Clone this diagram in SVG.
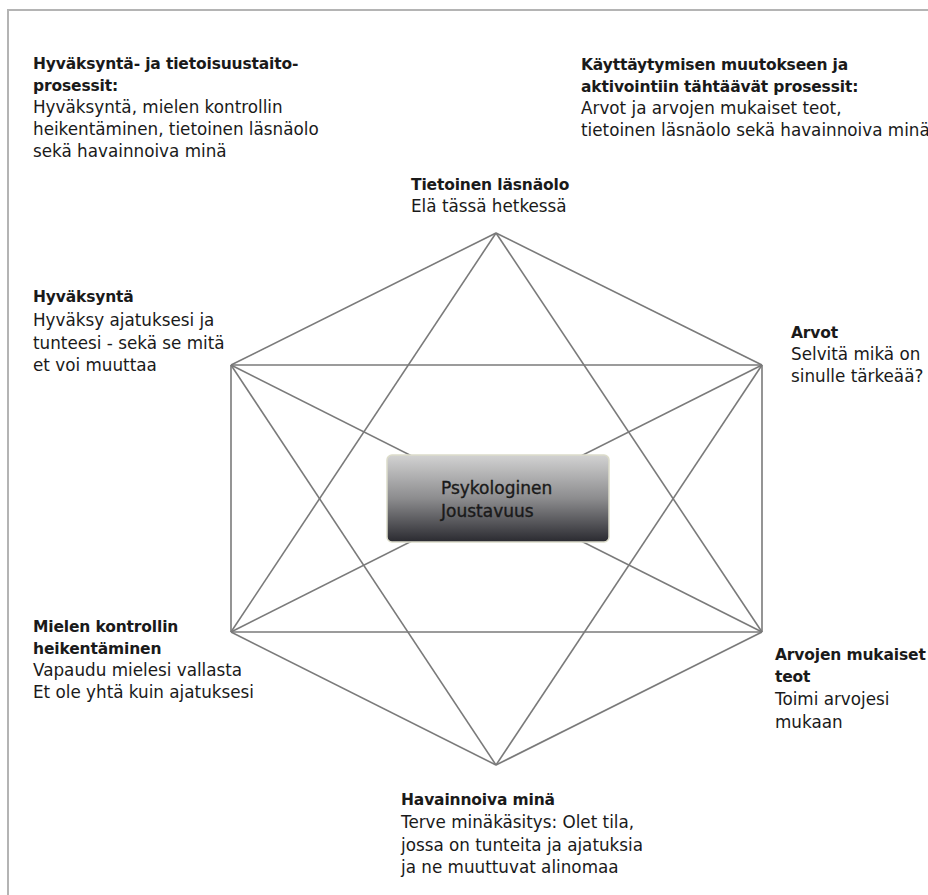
<svg xmlns="http://www.w3.org/2000/svg" width="928" height="895" viewBox="0 0 928 895">
<defs>
<linearGradient id="boxg" x1="0" y1="0" x2="0" y2="1">
<stop offset="0" stop-color="#d2d2d2"/>
<stop offset="0.5" stop-color="#8c8c8e"/>
<stop offset="1" stop-color="#2a2a30"/>
</linearGradient>
<style>
text{font-family:"DejaVu Sans","Verdana",sans-serif;font-size:16.8px;fill:#1a1a1a}
.b{font-weight:bold;font-size:15.5px;letter-spacing:-0.15px}
.c{font-size:17px;stroke:#1a1a1a;stroke-width:0.35}
.ln{stroke:#7a7a7a;stroke-width:1.6;fill:none}
</style>
</defs>
<rect x="0" y="0" width="928" height="895" fill="#ffffff"/>
<rect x="8" y="10" width="960" height="920" fill="none" stroke="#b4b4b4" stroke-width="2"/>
<g id="connectors">
<line class="ln" x1="496" y1="233" x2="231" y2="365"/>
<line class="ln" x1="496" y1="233" x2="762" y2="365"/>
<line class="ln" x1="231" y1="365" x2="231" y2="632"/>
<line class="ln" x1="762" y1="365" x2="762" y2="632"/>
<line class="ln" x1="231" y1="632" x2="496" y2="765"/>
<line class="ln" x1="762" y1="632" x2="496" y2="765"/>
<line class="ln" x1="496" y1="233" x2="231" y2="632"/>
<line class="ln" x1="496" y1="233" x2="762" y2="632"/>
<line class="ln" x1="231" y1="632" x2="762" y2="632"/>
<line class="ln" x1="496" y1="765" x2="231" y2="365"/>
<line class="ln" x1="496" y1="765" x2="762" y2="365"/>
<line class="ln" x1="231" y1="365" x2="762" y2="365"/>
<line class="ln" x1="231" y1="365" x2="762" y2="632"/>
<line class="ln" x1="762" y1="365" x2="231" y2="632"/>
</g>
<g id="center">
<rect x="387" y="455" width="222" height="87" rx="5" fill="url(#boxg)" stroke="#dcdcca" stroke-width="1.5"/>
<text x="441" y="494" class="c">Psykologinen</text>
<text x="441" y="517" class="c">Joustavuus</text>
</g>
<g id="acceptance-processes">
<text x="33" y="69" class="b">Hyväksyntä- ja tietoisuustaito-</text>
<text x="33" y="91" class="b">prosessit:</text>
<text x="33" y="113">Hyväksyntä, mielen kontrollin</text>
<text x="33" y="135">heikentäminen, tietoinen läsnäolo</text>
<text x="33" y="157">sekä havainnoiva minä</text>
</g>
<g id="behaviour-processes">
<text x="581" y="70" class="b">Käyttäytymisen muutokseen ja</text>
<text x="581" y="92" class="b">aktivointiin tähtäävät prosessit:</text>
<text x="581" y="114">Arvot ja arvojen mukaiset teot,</text>
<text x="581" y="136">tietoinen läsnäolo sekä havainnoiva minä</text>
</g>
<g id="mindfulness">
<text x="411" y="190" class="b">Tietoinen läsnäolo</text>
<text x="411" y="212">Elä tässä hetkessä</text>
</g>
<g id="acceptance">
<text x="33" y="302" class="b">Hyväksyntä</text>
<text x="33" y="326">Hyväksy ajatuksesi ja</text>
<text x="33" y="349">tunteesi - sekä se mitä</text>
<text x="33" y="371">et voi muuttaa</text>
</g>
<g id="values">
<text x="791" y="338" class="b">Arvot</text>
<text x="791" y="360">Selvitä mikä on</text>
<text x="791" y="382">sinulle tärkeää?</text>
</g>
<g id="defusion">
<text x="33" y="632" class="b">Mielen kontrollin</text>
<text x="33" y="654" class="b">heikentäminen</text>
<text x="33" y="676">Vapaudu mielesi vallasta</text>
<text x="33" y="698">Et ole yhtä kuin ajatuksesi</text>
</g>
<g id="committed-action">
<text x="775" y="660" class="b">Arvojen mukaiset</text>
<text x="775" y="682" class="b">teot</text>
<text x="775" y="705">Toimi arvojesi</text>
<text x="775" y="728">mukaan</text>
</g>
<g id="self-as-context">
<text x="401" y="805" class="b">Havainnoiva minä</text>
<text x="401" y="828">Terve minäkäsitys: Olet tila,</text>
<text x="401" y="851">jossa on tunteita ja ajatuksia</text>
<text x="401" y="873">ja ne muuttuvat alinomaa</text>
</g>
</svg>
